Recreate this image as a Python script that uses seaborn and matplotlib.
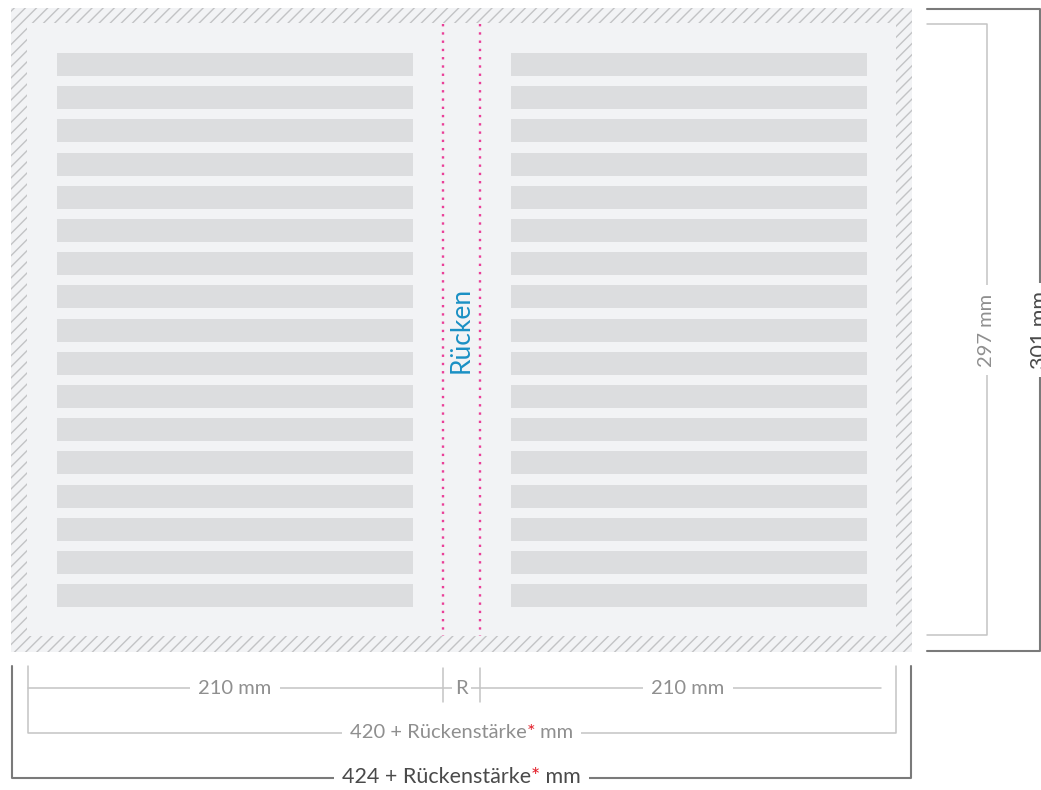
import matplotlib
matplotlib.use('Agg')
import matplotlib.pyplot as plt
from matplotlib.patches import Rectangle
import seaborn as sns
import numpy as np

sns.set_theme(style='white')
plt.rcParams['font.family'] = ['Lato', 'DejaVu Sans']
plt.rcParams['hatch.linewidth'] = 1.0

# Beschriftungen / Maße
page_label = 'Rücken'
width_page = '210 mm'
spine_label = 'R'
width_trim = ['420 + Rückenstärke', '*', ' mm']
width_bleed = ['424 + Rückenstärke', '*', ' mm']
height_trim = '297 mm'
height_bleed = '301 mm'

# Platzhalterzeilen pro Seite
n_rows = 17
row_top = 53
row_pitch = 33.2
row_height = 23
columns_left = [57, 511]
column_width = 356

# Farben
c_page = '#f2f3f5'
c_hatch = '#c2c3c5'
c_row = '#dcdddf'
c_spine = '#ea3f98'
c_blue = '#1a90c4'
c_light = '#c4c4c4'
c_dark = '#7a7a7a'
c_text_light = '#8f8f8f'
c_text_dark = '#4a4a4a'
c_red = '#e3202b'

fig = plt.figure(figsize=(10.41, 7.9), dpi=100)
ax = fig.add_axes([0, 0, 1, 1])
ax.set_xlim(0, 1041)
ax.set_ylim(790, 0)
ax.axis('off')

# Beschnitt (schraffiert) und Seite
ax.add_patch(Rectangle((11, 8), 901, 644, facecolor=c_page, edgecolor=c_hatch,
                       hatch='///', lw=0, zorder=1))
ax.add_patch(Rectangle((27, 23), 869, 613, facecolor=c_page, lw=0, zorder=2))

# Textzeilen
rows_y = row_top + row_pitch * np.arange(n_rows)
for left in columns_left:
    ax.barh(rows_y, column_width, left=left, height=row_height, align='edge',
            color=c_row, lw=0, zorder=3)

# Rücken
for x in [443, 480]:
    ax.plot([x, x], [24, 636], color=c_spine, lw=1.7, ls=(0, (1, 2.5)),
            zorder=4, dash_capstyle='butt')
ax.text(461.5, 330, page_label, rotation=90, ha='center', va='center',
        color=c_blue, fontsize=19, zorder=5)

box = dict(facecolor='white', edgecolor='none', pad=6)

# untere Maßketten
ax.plot([28, 881], [688, 688], color=c_light, lw=1.1, zorder=3)
for x in [443, 480]:
    ax.plot([x, x], [668, 702], color=c_light, lw=1.1, zorder=3)
ax.text(235, 688, width_page, ha='center', va='center', color=c_text_light,
        fontsize=14.5, bbox=box, zorder=5)
ax.text(688, 688, width_page, ha='center', va='center', color=c_text_light,
        fontsize=14.5, bbox=box, zorder=5)
ax.text(461.5, 688, spine_label, ha='center', va='center', color=c_text_light,
        fontsize=14.5, bbox=dict(facecolor='white', edgecolor='none', pad=2), zorder=5)

ax.plot([28, 28, 896, 896], [666, 733, 733, 666], color=c_light, lw=1.1, zorder=3)
ax.plot([12, 12, 911, 911], [666, 778, 778, 666], color=c_dark, lw=1.5, zorder=3)


def colored_label(parts, xc, y, colors, fs):
    # mehrfarbiger Text, zentriert um xc
    fig.canvas.draw()
    r = fig.canvas.get_renderer()
    inv = ax.transData.inverted()
    objs = [ax.text(0, y, p, ha='left', va='center', color=c, fontsize=fs, zorder=6)
            for p, c in zip(parts, colors)]
    widths = []
    for o in objs:
        bb = o.get_window_extent(renderer=r)
        x0 = inv.transform((bb.x0, bb.y0))[0]
        x1 = inv.transform((bb.x1, bb.y0))[0]
        widths.append(x1 - x0)
    total = sum(widths)
    x = xc - total / 2
    ax.add_patch(Rectangle((x - 8, y - 10), total + 16, 20, facecolor='white',
                           lw=0, zorder=5))
    for o, w in zip(objs, widths):
        o.set_x(x)
        x += w


colored_label(width_trim, 461.5, 733, [c_text_light, c_red, c_text_light], 14.5)
colored_label(width_bleed, 461.5, 777, [c_text_dark, c_red, c_text_dark], 15.5)

# rechte Maßketten
ax.plot([927, 987, 987, 927], [24, 24, 635, 635], color=c_light, lw=1.1, zorder=3)
ax.text(987, 330, height_trim, rotation=90, ha='center', va='center',
        color=c_text_light, fontsize=14.5, bbox=box, zorder=5)
ax.plot([927, 1040, 1040, 927], [9, 9, 651, 651], color=c_dark, lw=1.5, zorder=3)
ax.text(1040, 330, height_bleed, rotation=90, ha='center', va='center',
        color=c_text_dark, fontsize=15.5, bbox=box, zorder=5)

fig.savefig('out.png', dpi=100, facecolor='white')
